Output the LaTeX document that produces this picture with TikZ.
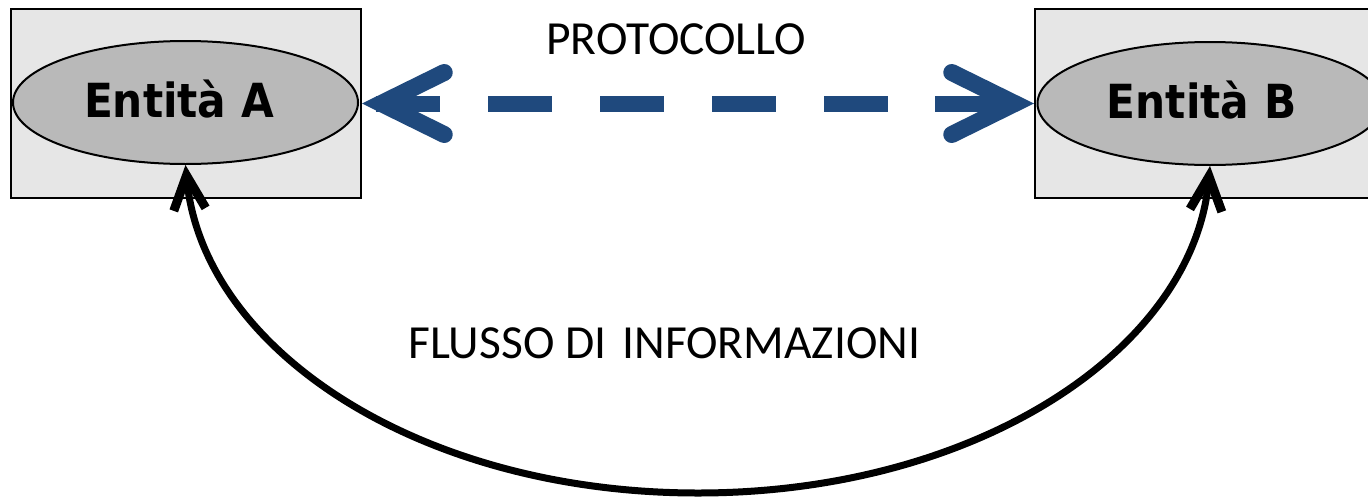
\documentclass[tikz,border=0pt]{standalone}
\usepackage{fontspec}
\setmainfont{Carlito}
\newfontfamily\entfont[FakeStretch=0.9]{DejaVu Sans}
\usetikzlibrary{arrows.meta,calc,shapes.geometric}
\definecolor{boxgray}{HTML}{E6E6E6}
\definecolor{ellgray}{HTML}{B9B9B9}
\definecolor{protoblue}{HTML}{1F497D}
\tikzset{
  entbox/.style={draw=black, line width=2pt, fill=boxgray, minimum width=350pt, minimum height=189pt, inner sep=0pt},
  entell/.style={ellipse, draw=black, line width=2pt, fill=ellgray, minimum width=345pt, minimum height=123pt, inner sep=0pt},
  enttext/.style={anchor=base, inner sep=0pt, font=\entfont\bfseries\fontsize{47}{50}\selectfont},
  lbl/.style={anchor=base west, inner sep=0pt, font=\fontsize{47.5}{50}\selectfont},
  protoline/.style={draw=protoblue, line width=16pt, dash pattern=on 64pt off 48pt, dash phase=98pt},
  protohead/.style={draw=protoblue, line width=16pt, -{Straight Barb[length=63pt, width=62pt, line width=17pt, line cap=round, line join=miter]}},
  flowtip/.tip={Straight Barb[length=34pt, width=32pt, line width=9pt, line join=miter]},
  flow/.style={draw=black, line width=7pt, flowtip-flowtip}
}
\begin{document}
\begin{tikzpicture}[x=1pt,y=-1pt]
\useasboundingbox (0,0) rectangle (1368,498);
\clip (0,0) rectangle (1368,498);
\node[entbox] (boxA) at (186,103.5) {};
\node[entbox] (boxB) at (1210,103.5) {};
\node[entell] (A) at (185.5,102.5) {};
\node[entell] (B) at (1210,103.5) {};
\node[enttext] (tA) at (179,117) {Entità A};
\node[enttext] (tB) at (1201.5,118) {Entità B};
\draw[protoline] (boxA.east) -- (boxB.west);
\draw[protohead] ($(boxA.east)+(78,0)$) -- (boxA.east);
\draw[protohead] ($(boxB.west)+(-99,0)$) -- (boxB.west);
\node[lbl] (proto) at (546,54) {PROTOCOLLO};
\node[lbl] (flusso) at (408,358) {FLUSSO DI\hspace{16pt}INFORMAZIONI};
\draw[flow] (A.south) .. controls (203,350) and (420,493) .. (698,493)
  .. controls (976,493) and (1193,350) .. (B.south);
\end{tikzpicture}
\end{document}
